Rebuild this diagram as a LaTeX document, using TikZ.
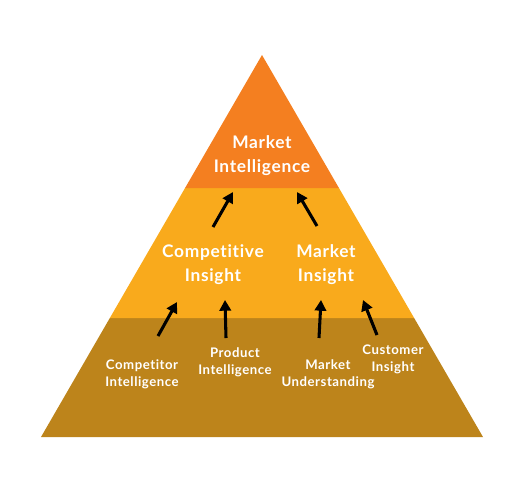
\documentclass[tikz,border=0pt]{standalone}
\usepackage{fontspec}
\setmainfont{Lato}
\newfontfamily\widelato[LetterSpace=4,Ligatures=NoCommon]{Lato}
\usetikzlibrary{arrows.meta,calc}
\definecolor{topc}{HTML}{F47F20}
\definecolor{midc}{HTML}{F9AA1C}
\definecolor{botc}{HTML}{BD841B}
\tikzset{
  bigtxt/.style={text=white,font=\widelato\bfseries\fontsize{13pt}{18pt}\selectfont,align=center,inner sep=0pt},
  smalltxt/.style={text=white,font=\widelato\bfseries\fontsize{9.9pt}{12.8pt}\selectfont,align=center,inner sep=0pt},
  arr/.style={line width=2.3pt,-{Triangle[length=8pt,width=8.5pt]}},
}
\begin{document}
\begin{tikzpicture}[x=0.75pt,y=-0.75pt]
\useasboundingbox (0,0) rectangle (525,480);
% pyramid bands
\coordinate (apex) at (262,55);
\coordinate (bl) at (41,437);
\coordinate (br) at (483,437);
\coordinate (ml) at ($(apex)!0.68848!(bl)$);
\coordinate (mr) at ($(apex)!0.68848!(br)$);
\coordinate (tl) at ($(apex)!0.34817!(bl)$);
\coordinate (tr) at ($(apex)!0.34817!(br)$);
\path[fill=botc] (bl) -- (br) -- (mr) -- (ml) -- cycle;
\path[fill=midc] (ml) -- (mr) -- (tr) -- (tl) -- cycle;
\path[fill=topc] (apex) -- (tr) -- (tl) -- cycle;
% texts
\node[bigtxt] (mi) at (262,156) {Market\\Intelligence};
\node[bigtxt] (ci) at (213,265) {Competitive\\Insight};
\node[bigtxt] (mki) at (326,265) {Market\\Insight};
\node[smalltxt] (cpi) at (142,374) {Competitor\\Intelligence};
\node[smalltxt] (pi) at (235,362) {Product\\Intelligence};
\node[smalltxt] (mu) at (328,374) {Market\\Understanding};
\node[smalltxt] (cui) at (393,359) {Customer\\Insight};
% arrow ends
\coordinate (a1s) at (213,227); \coordinate (a1e) at (233,192);
\coordinate (a2s) at (317,226); \coordinate (a2e) at (297,192);
\coordinate (a3s) at (158,336); \coordinate (a3e) at (177,302);
\coordinate (a4s) at (226,338); \coordinate (a4e) at (225,300);
\coordinate (a5s) at (319,338); \coordinate (a5e) at (321,300);
\coordinate (a6s) at (377,335); \coordinate (a6e) at (363,300);
\draw[arr] (a1s) -- (a1e);
\draw[arr] (a2s) -- (a2e);
\draw[arr] (a3s) -- (a3e);
\draw[arr] (a4s) -- (a4e);
\draw[arr] (a5s) -- (a5e);
\draw[arr] (a6s) -- (a6e);
\end{tikzpicture}
\end{document}
